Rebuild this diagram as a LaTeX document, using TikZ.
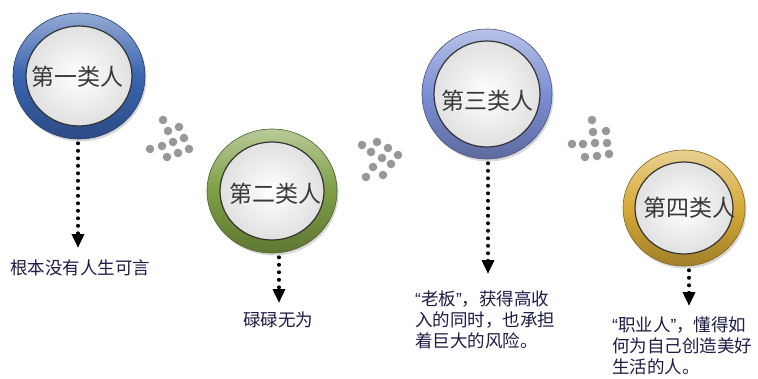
\documentclass[tikz,border=0pt]{standalone}
\usepackage{fontspec}
\newfontfamily\cjk{Noto Sans CJK SC}
\newfontfamily\latin{Liberation Sans}
\usetikzlibrary{positioning,shapes.geometric,arrows.meta,shadows}
\definecolor{ringblue}{RGB}{58,100,176}
\definecolor{ringgreen}{RGB}{126,158,68}
\definecolor{ringlilac}{RGB}{124,142,212}
\definecolor{ringgold}{RGB}{214,170,56}
\definecolor{dotgray}{RGB}{152,152,152}
\definecolor{labelnavy}{RGB}{28,28,72}
\newcommand{\openq}{{\latin “}}
\newcommand{\closeq}{{\latin ”}}

\begin{document}
\begin{tikzpicture}[x=1pt, y=-1pt,
    ring/.style={ellipse, inner sep=0pt, draw=#1!60!black, line width=0.6pt,
      top color=#1!55!white, bottom color=#1!75!black, middle color=#1,
      drop shadow={opacity=0.3, shadow xshift=1.5pt, shadow yshift=-2.5pt}},
    disk/.style={ellipse, inner sep=0pt, draw=black!80, line width=1.2pt,
      inner color=white, outer color=black!12},
    kind/.style={inner sep=0pt, font=\cjk\fontsize{23}{23}\selectfont, text=black!78},
    lbl/.style={inner sep=0pt, font=\cjk\fontsize{17.5}{21}\selectfont,
      text=labelnavy, align=left},
    dotarrow/.style={line width=4pt, line cap=round, dash pattern=on 0pt off 7.5pt,
      shorten <=4pt, -{Triangle[length=14pt, width=12pt]}},
    graydot/.style={fill=dotgray}
  ]
  \path[use as bounding box, fill=white] (0,0) rectangle (758,378);

  % the four kinds
  \node[ring=ringblue, minimum width=132pt, minimum height=126pt] (r1) at (79,76) {};
  \node[disk, minimum width=106pt, minimum height=100pt] (d1) at (r1) {};
  \node[kind] (t1) at (77,77) {第一类人};

  \node[ring=ringgreen, minimum width=130pt, minimum height=124pt] (r2) at (272,191) {};
  \node[disk, minimum width=104pt, minimum height=98pt] (d2) at (r2) {};
  \node[kind] (t2) at (275,194) {第二类人};

  \node[ring=ringlilac, minimum width=130pt, minimum height=130pt] (r3) at (487,94) {};
  \node[disk, minimum width=106pt, minimum height=106pt] (d3) at (r3) {};
  \node[kind] (t3) at (487,101) {第三类人};

  \node[ring=ringgold, minimum width=122pt, minimum height=116pt] (r4) at (684,208) {};
  \node[disk, minimum width=98pt, minimum height=92pt] (d4) at (r4) {};
  \node[kind] (t4) at (689,208) {第四类人};

  % descriptions
  \node[lbl, anchor=west] (l1) at (10,268) {根本没有人生可言};
  \node[lbl] (l2) at (278,320) {碌碌无为};
  \node[lbl, anchor=north west] (l3) at (415,291) {\openq 老板\closeq ，获得高收\\入的同时，也承担\\着巨大的风险。};
  \node[lbl, anchor=north west] (l4) at (612,317) {\openq 职业人\closeq ，懂得如\\何为自己创造美好\\生活的人。};

  \coordinate (tip1) at (78,248);
  \coordinate (tip2) at (279,303);
  \coordinate (tip3) at (488,274);
  \coordinate (tip4) at (689,306);
  \draw[dotarrow] (tip1 |- r1.south) -- (tip1);
  \draw[dotarrow] (tip2 |- r2.south) -- (tip2);
  \draw[dotarrow] (tip3 |- r3.south) -- (tip3);
  \draw[dotarrow] (tip4 |- r4.south) -- (tip4);

  % gray dot clusters
  \foreach \p in {(163,120),(168,131),(179,127),(150,149),(162,146),(173,142),(184,138),(167,157),(178,153),(189,149)}
    \fill[graydot] \p circle (4.3);
  \foreach \p in {(362,145),(377,142),(371,152),(388,148),(382,158),(398,155),(373,167),(391,164),(366,177),(383,175)}
    \fill[graydot] \p circle (4.3);
  \foreach \p in {(592,120),(593,132),(606,131),(572,144),(583,144),(595,143),(607,143),(585,157),(597,156),(609,154)}
    \fill[graydot] \p circle (4.3);
\end{tikzpicture}
\end{document}
